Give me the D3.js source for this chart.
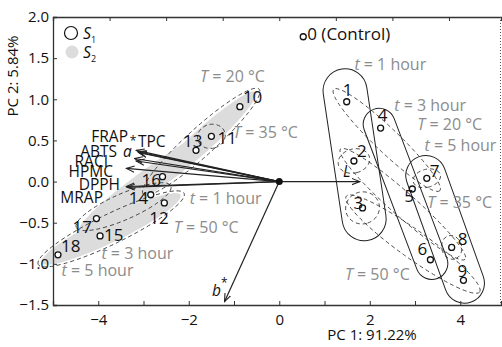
<!DOCTYPE html>
<html>
<head>
<meta charset="utf-8">
<script src="https://cdn.jsdelivr.net/npm/d3@7"></script>
<style>
  body { margin: 0; background: #fff; }
  text { font-family: "Open Sans", sans-serif; }
</style>
</head>
<body>
<div id="chart"></div>
<script>
// sample scores (PC1, PC2), sample 0 is the control
var sampleIds = [0, 1, 2, 3, 4, 5, 6, 7, 8, 9, 10, 11, 12, 13, 14, 15, 16, 17, 18];
var pc1 = [0.53, 1.49, 1.65, 1.84, 2.24, 2.94, 3.34, 3.26, 3.81, 4.07,
           -0.87, -1.50, -2.54, -1.84, -2.84, -3.96, -2.58, -4.04, -4.89];
var pc2 = [1.76, 0.97, 0.25, -0.32, 0.65, -0.09, -0.95, 0.04, -0.80, -1.20,
           0.91, 0.55, -0.26, 0.38, -0.16, -0.66, 0.06, -0.45, -0.89];

// loadings
var vecNames = ["FRAP", "TPC", "a", "ABTS", "RACI", "HPMC", "DPPH", "MRAP", "L", "b"];
var vecPc1 = [-3.12, -3.10, -3.16, -3.20, -3.16, -3.38, -3.38, -3.36, 1.78, -1.21];
var vecPc2 = [0.36, 0.35, 0.38, 0.28, 0.25, 0.16, -0.06, -0.07, 0.0, -1.46];

// groupings drawn as enclosures
var grayGroups = [[10, 13, 16], [11, 14, 17], [12, 15, 18]];
var solidGroups = [[1, 2, 3], [4, 5, 6], [7, 8, 9]];
var dashedGroups = [[1, 4, 7], [2, 5, 8], [3, 6, 9], [2], [3], [7], [8],
                    [10, 13, 16], [11], [12, 15, 18], [14, 17]];

var xTicks = [-4, -3, -2, -1, 0, 1, 2, 3, 4];
var yTicks = [-1.5, -1.0, -0.5, 0.0, 0.5, 1.0, 1.5, 2.0];

// annotation text (italic symbol, rest)
var noteSym = ["T", "T", "t", "T", "t", "t", "t", "t", "T", "t", "T", "T"];
var noteRest = [" = 20 °C", " = 35 °C", " = 1 hour", " = 50 °C", " = 3 hour", " = 5 hour",
                " = 1 hour", " = 3 hour", " = 20 °C", " = 5 hour", " = 35 °C", " = 50 °C"];

// ---- layout (not data) ----
var noteX = [-1.75, -1.02, -1.98, -2.33, -3.93, -4.81, 1.66, 2.54, 3.05, 3.21, 3.27, 1.45];
var noteY = [1.21, 0.53, -0.27, -0.62, -0.94, -1.15, 1.36, 0.86, 0.63, 0.37, -0.32, -1.2];
// label offsets in px (dx, dy to baseline)
var lblOff = {0:[4,3],1:[-4,-6],2:[3,-4],3:[-9,1],4:[-3,-7],5:[-8,13],6:[-13,-5],7:[3,-1],8:[6,-2],9:[-6,-3],
              10:[3,-4],11:[6,8],12:[-15,21],13:[-13,-3],14:[-22,9],15:[4,5],16:[-21,9],17:[-24,14],18:[3,-3]};
// enclosure shapes: [half width, end padding] in px
var grayStyle = [[11, 22], [12, 22], [13, 18]];
var solidStyle = [[22, 33], [16, 20], [20, 23]];
var dashedStyle = [[12, 18], [12, 18], [14, 20], [16, 12], [17, 16], [14, 9], [10, 12],
                   [14, 26], [14, 12], [15, 22], [13, 22]];
var vecLbl = {FRAP:[128,142,"end"], TPC:[138,147,"start"], a:[123,157,"start"], ABTS:[117,157,"end"],
              RACI:[108,167,"end"], HPMC:[113,177,"end"], DPPH:[120,190,"end"], MRAP:[103,203,"end"],
              L:[343,177,"start"], b:[212,296,"start"]};

var W = 502, H = 347;
var margin = {top: 17, right: 1, bottom: 42, left: 53};

var svg = d3.select("#chart").append("svg")
  .attr("width", W).attr("height", H);

var x = d3.scaleLinear().domain([-5, 4.9]).range([margin.left, W - margin.right]);
var y = d3.scaleLinear().domain([-1.5, 2.0]).range([H - margin.bottom, margin.top]);

var defs = svg.append("defs");
defs.append("marker")
  .attr("id", "arr")
  .attr("viewBox", "0 -5 10 10")
  .attr("refX", 9).attr("refY", 0)
  .attr("markerWidth", 9).attr("markerHeight", 9)
  .attr("markerUnits", "userSpaceOnUse")
  .attr("orient", "auto")
  .append("path")
  .attr("d", "M0,-3.5L9,0L0,3.5")
  .attr("fill", "none").attr("stroke", "#222").attr("stroke-width", 1.2);

// shape around a group, along the line from first to last member
function shape(g, st) {
  var a = g[0], b = g[g.length - 1];
  var x0 = x(pc1[a]), y0 = y(pc2[a]), x1 = x(pc1[b]), y1 = y(pc2[b]);
  var ang = g.length > 1 ? Math.atan2(y1 - y0, x1 - x0) * 180 / Math.PI : 75;
  return {cx: (x0 + x1) / 2, cy: (y0 + y1) / 2,
          rx: Math.hypot(x1 - x0, y1 - y0) / 2 + st[1], ry: st[0], ang: ang};
}

var gray = grayGroups.map(function(g, i) { return shape(g, grayStyle[i]); });
var solid = solidGroups.map(function(g, i) { return shape(g, solidStyle[i]); });
var dashed = dashedGroups.map(function(g, i) { return shape(g, dashedStyle[i]); });

svg.append("g").selectAll("ellipse").data(gray).enter().append("ellipse")
  .attr("transform", function(d) { return "translate(" + d.cx + "," + d.cy + ")rotate(" + d.ang + ")"; })
  .attr("rx", function(d) { return d.rx; }).attr("ry", function(d) { return d.ry; })
  .attr("fill", "#dcdcdc");

svg.append("g").selectAll("ellipse").data(dashed).enter().append("ellipse")
  .attr("transform", function(d) { return "translate(" + d.cx + "," + d.cy + ")rotate(" + d.ang + ")"; })
  .attr("rx", function(d) { return d.rx; }).attr("ry", function(d) { return d.ry; })
  .attr("fill", "none").attr("stroke", "#333").attr("stroke-width", 0.8)
  .attr("stroke-dasharray", "4,3");

svg.append("g").selectAll("rect").data(solid).enter().append("rect")
  .attr("transform", function(d) { return "translate(" + d.cx + "," + d.cy + ")rotate(" + d.ang + ")"; })
  .attr("x", function(d) { return -d.rx; }).attr("y", function(d) { return -d.ry; })
  .attr("width", function(d) { return 2 * d.rx; }).attr("height", function(d) { return 2 * d.ry; })
  .attr("rx", function(d) { return d.ry; }).attr("ry", function(d) { return d.ry; })
  .attr("fill", "none").attr("stroke", "#222").attr("stroke-width", 1);

// axes
var gx = svg.append("g")
  .attr("transform", "translate(0," + y(-1.5) + ")")
  .call(d3.axisBottom(x).tickValues(xTicks).tickSize(-4).tickPadding(9)
    .tickFormat(function(d) { return d % 2 === 0 ? d3.format("d")(d) : ""; }));
var gy = svg.append("g")
  .attr("transform", "translate(" + x(-5) + ",0)")
  .call(d3.axisLeft(y).tickValues(yTicks).tickSize(-4).tickPadding(4).tickFormat(d3.format(".1f")));
var gt = svg.append("g")
  .attr("transform", "translate(0," + y(2.0) + ")")
  .call(d3.axisTop(x).tickValues(d3.range(-3.75, 4.9, 1.25)).tickSize(-4).tickFormat(""));
[gx, gy, gt].forEach(function(g) {
  g.select(".domain").attr("stroke", "#333").attr("stroke-width", 1.3);
  g.selectAll(".tick line").attr("stroke", "#333");
  g.selectAll("text").attr("font-size", 15).attr("fill", "#111").attr("font-family", "Open Sans");
});
svg.append("line")
  .attr("x1", x(4.9) - 0.5).attr("x2", x(4.9) - 0.5)
  .attr("y1", y(2.0)).attr("y2", y(-1.5))
  .attr("stroke", "#555").attr("stroke-dasharray", "1,2");

svg.append("text").attr("x", 372).attr("y", 340).attr("text-anchor", "middle")
  .attr("font-size", 15).attr("fill", "#111").text("PC 1: 91.22%");
svg.append("text").attr("transform", "translate(18,76)rotate(-90)").attr("text-anchor", "middle")
  .attr("font-size", 15).attr("fill", "#111").text("PC 2: 5.84%");

// annotations
var notes = svg.append("g").selectAll("text").data(noteSym).enter().append("text")
  .attr("x", function(d, i) { return x(noteX[i]); })
  .attr("y", function(d, i) { return y(noteY[i]); })
  .attr("font-size", 16).attr("fill", "#8c8c8c");
notes.append("tspan").attr("font-style", "italic").text(function(d) { return d; });
notes.append("tspan").text(function(d, i) { return noteRest[i]; });

// loading vectors
svg.append("g").selectAll("line").data(vecNames).enter().append("line")
  .attr("x1", x(0)).attr("y1", y(0))
  .attr("x2", function(d, i) { return x(vecPc1[i]); })
  .attr("y2", function(d, i) { return y(vecPc2[i]); })
  .attr("stroke", "#222").attr("stroke-width", 1.2)
  .attr("marker-end", "url(#arr)");
svg.append("circle").attr("cx", x(0)).attr("cy", y(0)).attr("r", 3.5).attr("fill", "#111");

var vl = svg.append("g").selectAll("text").data(vecNames).enter().append("text")
  .attr("x", function(d) { return vecLbl[d][0]; })
  .attr("y", function(d) { return vecLbl[d][1]; })
  .attr("text-anchor", function(d) { return vecLbl[d][2]; })
  .attr("font-size", 15.5).attr("fill", "#111")
  .attr("font-style", function(d) { return d.length === 1 ? "italic" : "normal"; });
vl.append("tspan").text(function(d) { return d; });
vl.filter(function(d) { return d.length === 1; }).append("tspan")
  .attr("dy", function(d) { return d === "a" ? -12 : -9; })
  .attr("dx", function(d) { return d === "a" ? -2 : 0; })
  .attr("font-size", 12).attr("font-style", "normal").text("*");

// sample points
svg.append("g").selectAll("circle").data(sampleIds).enter().append("circle")
  .attr("cx", function(d) { return x(pc1[d]); })
  .attr("cy", function(d) { return y(pc2[d]); })
  .attr("r", 3).attr("fill", "#fff").attr("stroke", "#111").attr("stroke-width", 1.3);

svg.append("g").selectAll("text").data(sampleIds).enter().append("text")
  .attr("x", function(d) { return x(pc1[d]) + lblOff[d][0]; })
  .attr("y", function(d) { return y(pc2[d]) + lblOff[d][1]; })
  .attr("font-size", 17).attr("fill", "#111")
  .text(function(d) { return d === 0 ? "0 (Control)" : d; });

// legend
var leg = svg.append("g");
leg.append("circle").attr("cx", 71).attr("cy", 33).attr("r", 6.5)
  .attr("fill", "#fff").attr("stroke", "#111").attr("stroke-width", 1.2);
leg.append("circle").attr("cx", 72).attr("cy", 52).attr("r", 6.5).attr("fill", "#dcdcdc");
["1", "2"].forEach(function(s, i) {
  var t = leg.append("text").attr("x", 83).attr("y", 39 + i * 19)
    .attr("font-size", 16).attr("fill", "#111");
  t.append("tspan").attr("font-style", "italic").text("S");
  t.append("tspan").attr("font-size", 9).attr("dy", 4).text(s);
});
</script>
</body>
</html>
